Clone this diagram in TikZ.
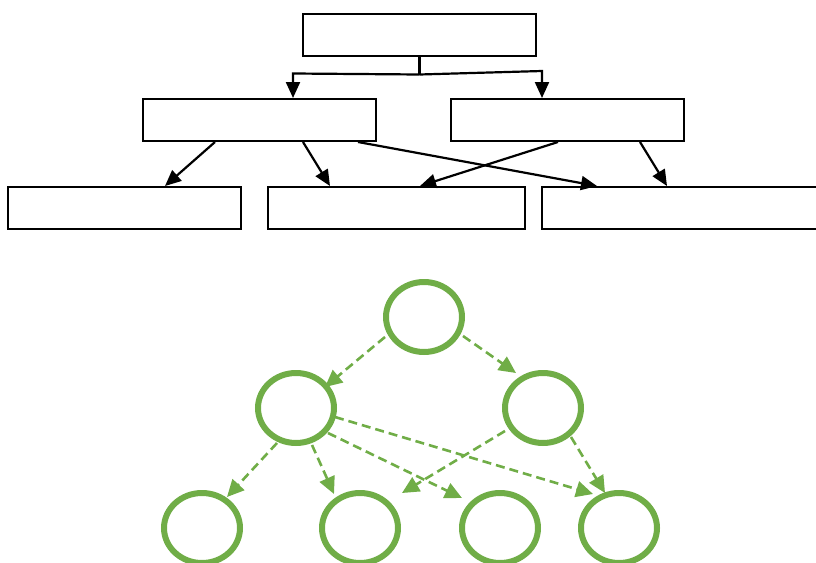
\documentclass[tikz,border=0pt]{standalone}
\usetikzlibrary{arrows.meta,shapes.geometric,calc}
\definecolor{lgreen}{HTML}{70AD47}
\tikzset{
  box/.style={draw=black,line width=2pt,rectangle,minimum height=42pt,inner sep=0pt},
  blk/.style={draw=black,line width=2.2pt,-{Triangle[length=16pt,width=14pt]}},
  circ/.style={draw=lgreen,line width=6pt,ellipse,minimum width=76pt,minimum height=70pt,inner sep=0pt},
  garr/.style={draw=lgreen,line width=2.6pt,dash pattern=on 9pt off 5pt,-{Triangle[length=17pt,width=16pt]}}
}
\begin{document}
\begin{tikzpicture}[x=1pt,y=-1pt]
\useasboundingbox (0,0) rectangle (816,562);
% boxes
\node[box,minimum width=233pt] (tb) at (419.5,34.5) {};
\node[box,minimum width=233pt] (ml) at (259.5,120) {};
\node[box,minimum width=233pt] (mr) at (567.5,120) {};
\node[box,minimum width=233pt] (b1) at (124.5,208) {};
\node[box,minimum width=257pt] (b2) at (396.5,208) {};
\node[box,minimum width=290pt] (b3) at (687,208) {};
% top connectors
\draw[line width=2.2pt] (tb.south) -- ++(0,18) coordinate (j);
\coordinate (jl) at ($(ml.north)+(33.5,-24.5)$);
\coordinate (jr) at ($(mr.north)+(-25.5,-27)$);
\draw[blk] (j) -- (jl) -- (jl |- ml.north);
\draw[blk] (j) -- (jr) -- (jr |- mr.north);
% middle to bottom
\draw[blk] ($(ml.south)+(-44.5,0)$) -- ($(b1.north)+(40.5,0)$);
\draw[blk] ($(ml.south)+(43.5,0)$) -- ($(b2.north)+(-66.5,0)$);
\draw[blk] ($(ml.south)+(98.5,0)$) -- ($(b3.north)+(-90,0)$);
\draw[blk] ($(mr.south)+(-9.5,0)$) -- ($(b2.north)+(23.5,0)$);
\draw[blk] ($(mr.south)+(72.5,0)$) -- ($(b3.north)+(-20,0)$);
% circles
\node[circ] (t) at (424,317) {};
\node[circ] (l) at (296,408) {};
\node[circ] (r) at (543,408) {};
\node[circ] (c1) at (202,528) {};
\node[circ] (c2) at (360,528) {};
\node[circ] (c3) at (500,528) {};
\node[circ] (c4) at (619,528) {};
% dashed arrows
\draw[garr] ($(t)+(-39,20)$) -- ($(l)+(29,-21)$);
\draw[garr] ($(t)+(39,19)$) -- ($(r)+(-27,-35)$);
\draw[garr] ($(l)+(-19,35)$) -- ($(c1)+(25,-31)$);
\draw[garr] ($(l)+(16,37)$) -- ($(c2)+(-26,-34)$);
\draw[garr] ($(l)+(32,25)$) -- ($(c3)+(-38,-30)$);
\draw[garr] ($(l)+(39,9)$) -- ($(c4)+(-26,-34)$);
\draw[garr] ($(r)+(-38,23)$) -- ($(c2)+(42,-35)$);
\draw[garr] ($(r)+(28,29)$) -- ($(c4)+(-14,-35)$);
\end{tikzpicture}
\end{document}
